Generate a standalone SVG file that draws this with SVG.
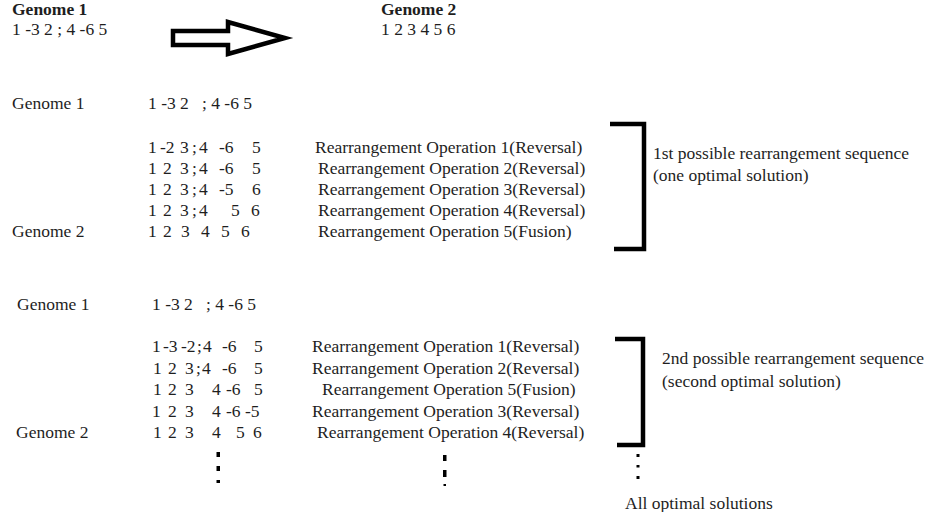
<svg xmlns="http://www.w3.org/2000/svg" width="933" height="512" viewBox="0 0 933 512">
<style>
.t{font-family:"Liberation Serif","Times New Roman",serif;font-size:17.5px;fill:#1e1e1e;white-space:pre}
.b{font-weight:bold}
.br{fill:none;stroke:#000;stroke-width:4.5;stroke-linejoin:miter;stroke-linecap:butt}
.dot{fill:#000}
</style>
<rect width="933" height="512" fill="#fff"/>
<g id="header-genome1">
<text class="t b" x="12" y="15">Genome 1</text>
<text class="t" x="12" y="35">1 -3 2 ; 4 -6 5</text>
</g>
<g id="header-genome2">
<text class="t b" x="381" y="15">Genome 2</text>
<text class="t" x="381" y="35">1 2 3 4 5 6</text>
</g>
<g id="connectors">
<polygon points="173,31 228,31 228,22 285,38 228,54 228,45 173,45" fill="#fff" stroke="#000" stroke-width="4.5" stroke-linejoin="miter"/>
</g>
<g id="sequence1">
<text class="t" x="12" y="109">Genome 1</text>
<text class="t" x="148" y="109">1 -3 2   ; 4 -6 5</text>
<text class="t" y="153"><tspan x="148">1</tspan><tspan x="160">-2</tspan><tspan x="180">3</tspan><tspan x="192">;</tspan><tspan x="199">4</tspan><tspan x="219">-6</tspan><tspan x="252">5</tspan></text>
<text class="t" y="174"><tspan x="148">1</tspan><tspan x="163">2</tspan><tspan x="180">3</tspan><tspan x="192">;</tspan><tspan x="199">4</tspan><tspan x="219">-6</tspan><tspan x="252">5</tspan></text>
<text class="t" y="195"><tspan x="148">1</tspan><tspan x="163">2</tspan><tspan x="180">3</tspan><tspan x="192">;</tspan><tspan x="199">4</tspan><tspan x="219">-5</tspan><tspan x="252">6</tspan></text>
<text class="t" y="216"><tspan x="148">1</tspan><tspan x="163">2</tspan><tspan x="180">3</tspan><tspan x="192">;</tspan><tspan x="199">4</tspan><tspan x="231">5</tspan><tspan x="251">6</tspan></text>
<text class="t" x="12" y="237">Genome 2</text>
<text class="t" y="237"><tspan x="148">1</tspan><tspan x="163">2</tspan><tspan x="181">3</tspan><tspan x="201">4</tspan><tspan x="221">5</tspan><tspan x="241">6</tspan></text>
<text class="t" x="315" y="153">Rearrangement Operation 1(Reversal)</text>
<text class="t" x="318" y="174">Rearrangement Operation 2(Reversal)</text>
<text class="t" x="318" y="195">Rearrangement Operation 3(Reversal)</text>
<text class="t" x="318" y="216">Rearrangement Operation 4(Reversal)</text>
<text class="t" x="318" y="237">Rearrangement Operation 5(Fusion)</text>
</g>
<g id="bracket1">
<path class="br" d="M610,124 H644 V249 H614"/>
<text class="t" x="653" y="159">1st possible rearrangement sequence</text>
<text class="t" x="653" y="181">(one optimal solution)</text>
</g>
<g id="sequence2">
<text class="t" x="17" y="310">Genome 1</text>
<text class="t" x="152" y="310">1 -3 2   ; 4 -6 5</text>
<text class="t" y="352"><tspan x="152">1</tspan><tspan x="163">-3</tspan><tspan x="181">-2</tspan><tspan x="197">;</tspan><tspan x="203">4</tspan><tspan x="222">-6</tspan><tspan x="254">5</tspan></text>
<text class="t" y="374"><tspan x="153">1</tspan><tspan x="168">2</tspan><tspan x="185">3</tspan><tspan x="196">;</tspan><tspan x="202">4</tspan><tspan x="222">-6</tspan><tspan x="254">5</tspan></text>
<text class="t" y="395"><tspan x="153">1</tspan><tspan x="168">2</tspan><tspan x="185">3</tspan><tspan x="212">4</tspan><tspan x="226">-6</tspan><tspan x="254">5</tspan></text>
<text class="t" y="417"><tspan x="152">1</tspan><tspan x="168">2</tspan><tspan x="185">3</tspan><tspan x="212">4</tspan><tspan x="226">-6</tspan><tspan x="245">-5</tspan></text>
<text class="t" x="16" y="438">Genome 2</text>
<text class="t" y="438"><tspan x="153">1</tspan><tspan x="168">2</tspan><tspan x="185">3</tspan><tspan x="212">4</tspan><tspan x="236">5</tspan><tspan x="253">6</tspan></text>
<text class="t" x="312" y="352">Rearrangement Operation 1(Reversal)</text>
<text class="t" x="312" y="374">Rearrangement Operation 2(Reversal)</text>
<text class="t" x="322" y="395">Rearrangement Operation 5(Fusion)</text>
<text class="t" x="312" y="417">Rearrangement Operation 3(Reversal)</text>
<text class="t" x="317" y="438">Rearrangement Operation 4(Reversal)</text>
</g>
<g id="bracket2">
<path class="br" d="M615,339 H643 V445 H617"/>
<text class="t" x="662" y="364">2nd possible rearrangement sequence</text>
<text class="t" x="662" y="387">(second optimal solution)</text>
</g>
<g id="more-solutions">
<rect class="dot" x="216.5" y="452" width="3.5" height="5"/>
<rect class="dot" x="216.5" y="466" width="3.5" height="5"/>
<rect class="dot" x="216.5" y="480" width="3.5" height="3"/>
<rect class="dot" x="443" y="455" width="3.5" height="6"/>
<rect class="dot" x="443" y="470" width="3.5" height="7"/>
<rect class="dot" x="443.5" y="484" width="2.5" height="2"/>
<rect class="dot" x="636.5" y="454" width="3" height="3"/>
<rect class="dot" x="636.5" y="465" width="3" height="2.5"/>
<rect class="dot" x="636.5" y="476" width="3" height="3"/>
<text class="t" x="625" y="509">All optimal solutions</text>
</g>
</svg>
